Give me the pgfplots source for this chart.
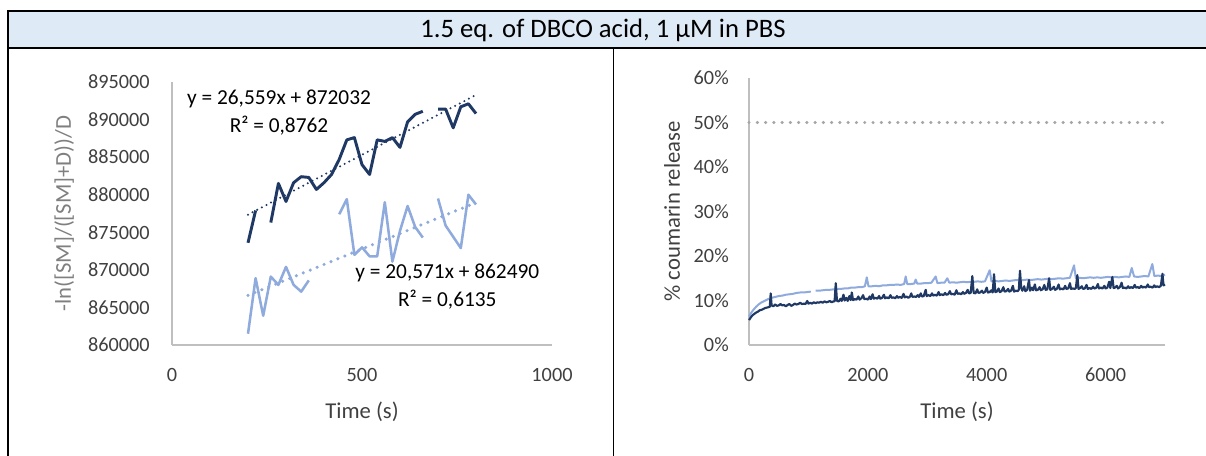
\documentclass[border=0pt]{standalone}
\usepackage{fontspec}
\setmainfont{Carlito}
\usepackage{pgfplots}
\pgfplotsset{compat=1.18}

\definecolor{navy}{HTML}{1F3864}
\definecolor{lightblue}{HTML}{8FAADC}
\definecolor{headerfill}{HTML}{DEEAF6}
\definecolor{axisgray}{HTML}{BFBFBF}
\definecolor{tickgray}{HTML}{404040}
\definecolor{labelgray}{HTML}{7F7F7F}
\definecolor{refgray}{HTML}{A6A6A6}

% shared look of both panels (Excel style)
\pgfplotsset{
  xlstyle/.style={
    scale only axis,
    anchor=south west,
    axis x line*=bottom,
    axis y line*=left,
    axis line style={draw=axisgray, line width=0.9pt, -},
    major tick length=0pt,
    tick label style={font=\fontsize{15.2}{18}\selectfont, text=tickgray},
    /pgf/number format/assume math mode=true,
    /pgf/number format/fixed,
    /pgf/number format/precision=0,
    /pgf/number format/1000 sep={},
    scaled ticks=false,
    xticklabel style={inner sep=0pt, anchor=north, yshift=-17pt},
    label style={font=\fontsize{17}{20}\selectfont, text=tickgray},
    unbounded coords=jump,
    clip=false,
  }
}

\begin{document}
\begin{tikzpicture}
\useasboundingbox (0pt,0pt) rectangle (904.5pt,-342pt);

% table frame
\fill[headerfill] (5.8pt,-8.25pt) rectangle (904.5pt,-35.8pt);
\draw[line width=1.5pt] (5.8pt,-342pt) -- (5.8pt,-8.25pt) -- (904.5pt,-8.25pt);
\draw[line width=1.5pt] (5.8pt,-35.8pt) -- (904.5pt,-35.8pt);
\draw[line width=1.1pt] (460pt,-35.8pt) -- (460pt,-342pt);
\node[font=\fontsize{20}{24}\selectfont] at (452.25pt,-23pt) {1.5 eq. of DBCO acid, 1 µM in PBS};

% left panel
\begin{axis}[
  xlstyle,
  at={(129pt,-258.75pt)},
  width=285pt, height=197.25pt,
  xmin=0, xmax=1000, ymin=860000, ymax=895000,
  xtick={0,500,1000},
  ytick={860000,865000,...,895000},
  yticklabel style={inner sep=0pt, anchor=east, xshift=-16.5pt},
  xlabel={Time (s)},
  ylabel={-ln([SM]/([SM]+D))/D},
  xlabel style={at={(axis description cs:0.5,-0.255)}, anchor=center},
  ylabel style={at={(axis description cs:-0.284,0.5)}, anchor=center, rotate=0, text=labelgray},
]
\addplot[navy, line width=2.2pt, line join=round] coordinates {
(200,873600) (220,877900) (240,nan) (260,876300) (280,881500) (300,879100)
(320,881600) (340,882400) (360,882300) (380,880700) (400,881600) (420,882700)
(440,884700) (460,887300) (480,887600) (500,884000) (520,882700) (540,887300)
(560,887100) (580,887600) (600,886300) (620,889700) (640,890700) (660,891100)
(680,nan) (700,891400) (720,891400) (740,888900) (760,891700) (780,892100)
(800,890800)};
\addplot[lightblue, line width=1.9pt, line join=round] coordinates {
(200,861500) (220,868900) (240,863900) (260,869100) (280,868000) (300,870400)
(320,868000) (340,867100) (360,868600) (380,nan) (440,877400) (460,879400)
(480,872000) (500,873000) (520,871800) (540,871800) (560,879000) (580,871100)
(600,875200) (620,878500) (640,875700) (660,874300) (680,nan) (700,879500)
(720,875900) (740,874400) (760,872900) (780,880000) (800,878700)};
% linear trendlines as given in the chart
\addplot[navy, line width=1.7pt, line cap=round, dash pattern=on 0pt off 3.9pt] coordinates {(200,877344) (800,893279)};
\addplot[lightblue, line width=2.6pt, line cap=round, dash pattern=on 0pt off 5.6pt] coordinates {(200,866604) (800,878947)};
\node[font=\fontsize{16}{19}\selectfont] at (axis cs:281.6,892700) {y = 26,559x + 872032};
\node[font=\fontsize{16}{19}\selectfont] at (axis cs:281.6,889145) {R² = 0,8762};
\node[font=\fontsize{16}{19}\selectfont] at (axis cs:724.5,869540) {y = 20,571x + 862490};
\node[font=\fontsize{16}{19}\selectfont] at (axis cs:724.5,865990) {R² = 0,6135};
\end{axis}

% right panel
\begin{axis}[
  xlstyle,
  at={(561.75pt,-258.75pt)},
  width=312pt, height=200.25pt,
  xmin=0, xmax=7000, ymin=0, ymax=60,
  xtick={0,2000,4000,6000},
  ytick={0,10,...,60},
  yticklabels={0\%,10\%,20\%,30\%,40\%,50\%,60\%},
  yticklabel style={inner sep=0pt, anchor=east, xshift=-15pt},
  xlabel={Time (s)},
  ylabel={\% coumarin release},
  xlabel style={at={(axis description cs:0.5,-0.251)}, anchor=center},
  ylabel style={at={(axis description cs:-0.185,0.5)}, anchor=center, rotate=0},
]
\addplot[refgray, line width=2.6pt, line cap=round, dash pattern=on 0pt off 6.2pt] coordinates {(0,50) (7000,50)};
\addplot[lightblue, line width=1.5pt, line join=round] coordinates {
(0,6.4) (40,7.3) (80,8.0) (120,8.6) (160,9.1) (200,9.5) (260,9.9) (320,10.3)
(380,10.6) (440,10.8) (500,11.0) (560,11.1) (620,11.3) (680,11.4) (740,11.5)
(800,11.7) (860,11.8) (920,11.8) (980,11.9) (1040,12.0) (1080,nan) (1120,12.2)
(1180,12.2) (1240,12.3) (1300,12.4) (1360,12.4) (1420,12.5) (1480,12.6)
(1540,12.6) (1600,12.7) (1660,12.7) (1720,12.9) (1780,12.9) (1840,13.0)
(1900,13.0) (1950,13.2) (1982,15.2) (2010,13.2) (2070,13.2) (2130,13.3)
(2190,13.2) (2250,13.4) (2310,13.4) (2370,13.5) (2430,13.5) (2490,13.6)
(2550,13.5) (2610,13.7) (2637,15.4) (2662,13.7) (2720,13.7) (2780,13.8)
(2805,14.7) (2830,13.8) (2890,13.8) (2950,13.9) (3010,13.9) (3070,14.0)
(3141,15.4) (3170,13.9) (3230,14.0) (3290,14.0) (3337,15.0) (3370,14.0)
(3430,14.1) (3490,14.0) (3550,14.1) (3610,14.2) (3670,14.1) (3730,14.2)
(3790,14.2) (3850,14.3) (3910,14.2) (3970,14.3) (4050,16.8) (4080,14.3)
(4140,14.4) (4200,14.3) (4260,14.4) (4320,14.5) (4380,14.4) (4440,14.5)
(4500,14.6) (4560,14.5) (4620,14.6) (4680,14.7) (4740,14.6) (4800,14.7)
(4860,14.8) (4920,14.7) (4980,14.8) (5040,14.9) (5100,14.8) (5160,14.9)
(5220,15.0) (5280,14.9) (5340,15.0) (5400,15.1) (5469,17.9) (5500,15.0)
(5560,15.1) (5620,15.0) (5680,15.1) (5740,15.2) (5800,15.1) (5860,15.2)
(5920,15.1) (5980,15.2) (6040,15.3) (6100,15.2) (6160,15.3) (6220,15.2)
(6280,15.3) (6340,15.4) (6400,15.3) (6440,17.3) (6480,15.4) (6540,15.3)
(6600,15.4) (6660,15.5) (6720,15.4) (6787,18.2) (6820,15.5) (6880,15.6)
(6940,15.5) (7000,15.8)};
\addplot[navy, line width=1.6pt, line join=round] coordinates {
(0,5.6) (30,6.2) (60,6.7) (90,7.0) (120,7.3) (150,7.5) (180,7.8) (210,7.9)
(240,8.1) (270,8.3) (300,8.4) (330,8.5) (350,8.6) (365,11.6) (380,8.9)
(410,8.7) (440,9.1) (470,8.8) (500,8.9) (530,9.2) (560,8.9) (590,9.0)
(620,8.7) (650,9.0) (680,9.2) (710,8.8) (740,9.0) (770,9.3) (800,9.1)
(830,9.2) (860,9.5) (890,9.2) (920,9.3) (950,9.2) (980,9.9) (1000,9.3)
(1030,9.5) (1060,9.3) (1090,9.6) (1120,9.4) (1150,9.6) (1180,9.5) (1210,9.7)
(1240,9.5) (1270,9.8) (1300,9.6) (1330,9.7) (1360,9.9) (1390,9.6) (1420,9.8)
(1440,9.8) (1460,13.9) (1480,9.9) (1510,9.8) (1540,10.4) (1560,9.9)
(1590,11.3) (1610,10.0) (1640,10.6) (1660,9.9) (1690,11.0) (1710,10.1)
(1730,11.8) (1750,10.1) (1780,10.3) (1810,10.2) (1840,10.9) (1860,10.2)
(1890,10.5) (1920,11.2) (1940,10.3) (1970,10.4) (2000,10.2) (2030,10.9)
(2050,10.3) (2080,11.4) (2100,10.4) (2130,10.6) (2160,10.4) (2190,11.0)
(2210,10.4) (2240,10.6) (2270,11.3) (2290,10.5) (2320,10.7) (2350,10.5)
(2380,11.2) (2400,10.6) (2430,10.7) (2460,10.5) (2490,11.0) (2510,10.6)
(2540,10.8) (2570,10.6) (2600,11.5) (2620,10.7) (2650,10.9) (2680,10.6)
(2710,10.9) (2730,11.6) (2750,10.8) (2780,10.9) (2810,10.8) (2840,11.2)
(2860,10.8) (2890,11.6) (2910,10.9) (2940,11.0) (2973,12.4) (2990,11.0)
(3020,11.2) (3050,11.0) (3080,11.6) (3100,11.1) (3130,11.3) (3160,11.1)
(3190,11.9) (3210,11.2) (3240,11.4) (3270,11.2) (3300,11.7) (3320,11.3)
(3350,11.4) (3380,12.1) (3400,11.4) (3430,11.5) (3460,11.3) (3490,12.3)
(3510,11.5) (3540,11.6) (3570,11.4) (3600,11.9) (3620,11.5) (3650,11.7)
(3680,12.4) (3700,11.6) (3730,11.7) (3758,15.5) (3780,11.7) (3810,11.6)
(3840,12.5) (3860,11.7) (3890,11.8) (3920,12.2) (3940,11.7) (3970,11.9)
(4000,12.9) (4020,11.8) (4050,11.9) (4080,12.3) (4100,11.8) (4123,15.9)
(4145,11.9) (4170,12.0) (4200,12.7) (4220,11.9) (4250,12.1) (4280,13.0)
(4300,12.0) (4330,12.1) (4360,12.6) (4380,12.0) (4410,12.2) (4440,13.3)
(4460,12.0) (4490,12.2) (4520,12.1) (4540,12.4) (4560,16.7) (4580,12.8)
(4600,12.2) (4630,13.2) (4650,12.1) (4680,12.4) (4711,14.6) (4730,12.2)
(4760,12.9) (4780,12.3) (4810,13.6) (4830,12.3) (4860,12.4) (4890,13.0)
(4910,12.3) (4940,12.5) (4970,13.5) (4990,12.4) (5020,12.5) (5050,15.0)
(5070,12.4) (5100,12.6) (5130,13.1) (5150,12.4) (5180,12.6) (5210,13.6)
(5230,12.5) (5260,12.7) (5290,12.5) (5320,13.3) (5340,12.6) (5370,12.7)
(5400,13.9) (5420,12.6) (5450,12.7) (5480,12.6) (5500,12.8) (5525,15.7)
(5545,12.6) (5570,12.8) (5600,13.2) (5620,12.6) (5650,12.7) (5680,13.5)
(5700,12.6) (5730,12.8) (5760,12.6) (5790,13.1) (5810,12.7) (5840,12.8)
(5870,13.7) (5890,12.7) (5920,12.9) (5950,12.7) (5980,13.3) (6000,12.7)
(6030,12.9) (6060,14.2) (6080,12.8) (6114,15.3) (6135,12.8) (6160,12.9)
(6190,13.3) (6210,12.7) (6240,13.0) (6270,14.0) (6290,12.8) (6320,12.9)
(6350,12.7) (6380,13.2) (6400,12.8) (6430,13.0) (6460,12.8) (6490,13.5)
(6510,12.9) (6540,13.0) (6570,12.8) (6600,13.3) (6620,12.9) (6650,13.1)
(6680,12.9) (6710,13.6) (6730,13.0) (6760,13.1) (6790,12.9) (6820,13.4)
(6840,13.0) (6870,13.2) (6900,13.0) (6930,13.3) (6957,16.0) (6975,13.4)
(7000,13.6)};
\end{axis}
\end{tikzpicture}
\end{document}
